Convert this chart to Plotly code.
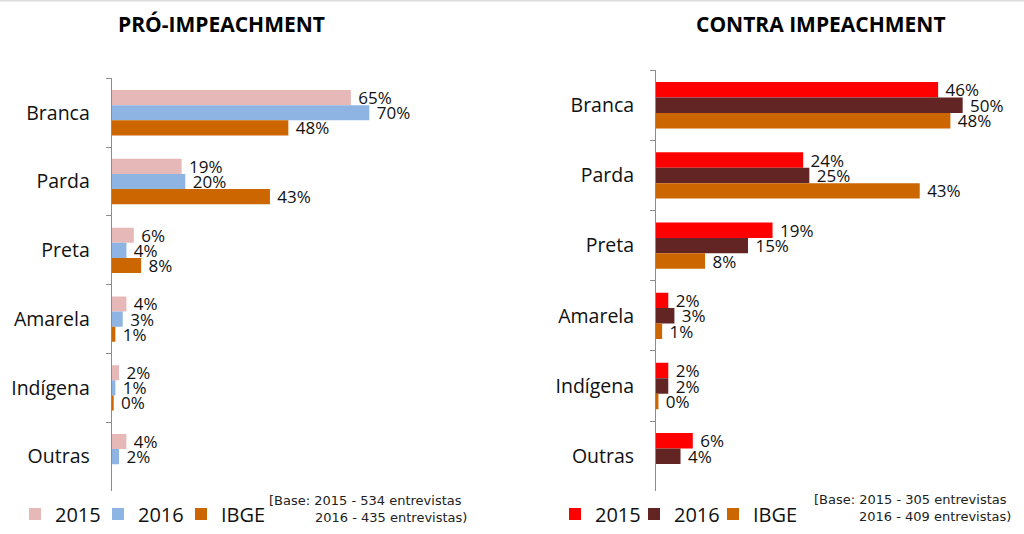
import plotly.graph_objects as go

W, H = 1024, 534

categories = ["Branca", "Parda", "Preta", "Amarela", "Indígena", "Outras"]

pro_2015 = [65, 19, 6, 4, 2, 4]
pro_2016 = [70, 20, 4, 3, 1, 2]
pro_ibge = [48, 43, 8, 1, 0.4, None]

contra_2015 = [46, 24, 19, 2, 2, 6]
contra_2016 = [50, 25, 15, 3, 2, 4]
contra_ibge = [48, 43, 8, 1, 0.4, None]

series_names = ["2015", "2016", "IBGE"]
pro_colors = ["#E6B9B8", "#8DB4E2", "#CC6600"]
contra_colors = ["#FF0000", "#632523", "#CC6600"]

titles = ["PRÓ-IMPEACHMENT", "CONTRA IMPEACHMENT"]
base_left = ["[Base: 2015 - 534 entrevistas", "2016 - 435 entrevistas)"]
base_right = ["[Base: 2015 - 305 entrevistas", "2016 - 409 entrevistas)"]

FONT = "Open Sans"


def px_x(p):
    return p / W


def px_y(p):
    return 1 - p / H


def labels(vals):
    return ["" if v is None else f"{round(v)}%" for v in vals]


fig = go.Figure()

for i, (name, vals, col) in enumerate(zip(series_names, [pro_2015, pro_2016, pro_ibge], pro_colors)):
    fig.add_trace(go.Bar(
        y=categories, x=vals, orientation="h", name=name,
        marker=dict(color=col, line=dict(width=0)),
        text=labels(vals), texttemplate="\u00a0%{text}", textposition="outside",
        textfont=dict(family=FONT, size=17, color="#111111"),
        constraintext="none", cliponaxis=False,
        xaxis="x", yaxis="y", legend="legend", hoverinfo="skip",
        legendwidth=60 if i == 2 else None,
    ))

for i, (name, vals, col) in enumerate(zip(series_names, [contra_2015, contra_2016, contra_ibge], contra_colors)):
    fig.add_trace(go.Bar(
        y=categories, x=vals, orientation="h", name=name,
        marker=dict(color=col, line=dict(width=0)),
        text=labels(vals), texttemplate="\u00a0%{text}", textposition="outside",
        textfont=dict(family=FONT, size=17, color="#111111"),
        constraintext="none", cliponaxis=False,
        xaxis="x2", yaxis="y2", legend="legend2", hoverinfo="skip",
        legendwidth=60 if i == 2 else None,
    ))

yax_common = dict(
    type="category", autorange="reversed", showline=True, linecolor="#8C8C8C",
    linewidth=1, ticks="outside", ticklen=5, tickcolor="#8C8C8C",
    tickson="boundaries", showgrid=False, zeroline=False,
    tickfont=dict(family=FONT, size=19.5, color="#111111"),
    ticklabelstandoff=17,
)
xax_common = dict(showline=False, showgrid=False, zeroline=False,
                  showticklabels=False, ticks="")

leg_common = dict(
    orientation="h", xanchor="left", yanchor="middle",
    font=dict(family=FONT, size=20, color="#111111"),
    bgcolor="rgba(0,0,0,0)", borderwidth=0, itemclick=False,
    itemdoubleclick=False,
)

fig.update_layout(
    width=W, height=H,
    margin=dict(l=0, r=0, t=0, b=0),
    paper_bgcolor="white", plot_bgcolor="white",
    barmode="group", bargap=0.34, bargroupgap=0,
    xaxis=dict(domain=[px_x(111.7), px_x(479.7)], range=[0, 100], **xax_common),
    yaxis=dict(domain=[px_y(494.7), px_y(79)], anchor="x", **yax_common),
    xaxis2=dict(domain=[px_x(656), px_x(1024)], range=[0, 60], anchor="y2", **xax_common),
    yaxis2=dict(domain=[px_y(495), px_y(70.7)], anchor="x2", **yax_common),
    legend=dict(x=px_x(15), y=px_y(518), entrywidth=38, **leg_common),
    legend2=dict(x=px_x(555), y=px_y(518), entrywidth=34, **leg_common),
    showlegend=True,
)

title_pos = [(221, 24), (821, 24)]
for t, (tx, ty) in zip(titles, title_pos):
    fig.add_annotation(
        text=f"<b>{t}</b>", x=px_x(tx), y=px_y(ty), xref="paper", yref="paper",
        xanchor="center", yanchor="middle", showarrow=False,
        font=dict(family=FONT, size=21, color="#000000"),
    )

note_pos = [
    (base_left, [(267, 504), (313, 521)]),
    (base_right, [(812, 503), (857, 520)]),
]
for lines, poss in note_pos:
    for line, (nx, ny) in zip(lines, poss):
        fig.add_annotation(
            text=line, x=px_x(nx), y=px_y(ny), xref="paper", yref="paper",
            xanchor="left", yanchor="middle", showarrow=False,
            font=dict(family="DejaVu Sans", size=13, color="#222222"),
        )

fig.add_shape(type="line", xref="paper", yref="paper", x0=0, x1=1, y0=1, y1=1,
              line=dict(color="#DDDDDD", width=3))

fig.write_html(
    "out.html",
    config={"displayModeBar": False},
    post_script="document.body.style.margin='0';document.body.style.overflow='hidden';",
)
